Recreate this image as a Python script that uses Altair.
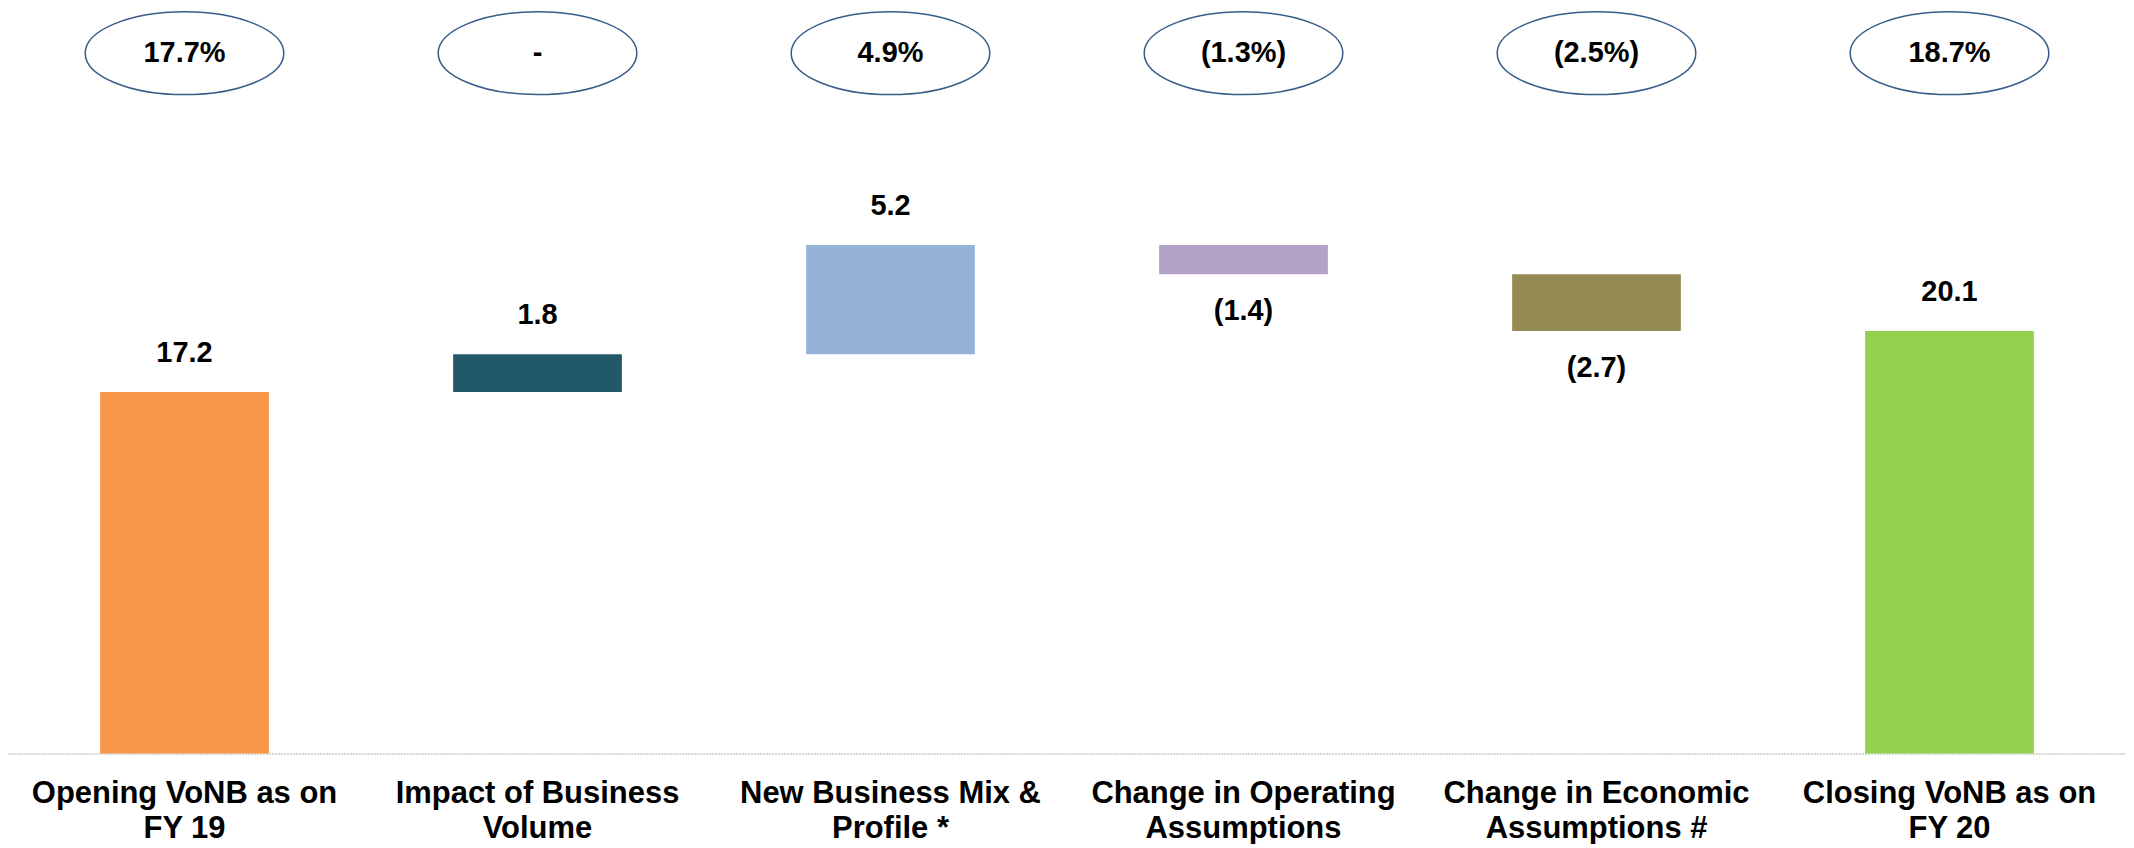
import altair as alt
import pandas as pd

# ---- data ----
categories = [
    "Opening VoNB as on|FY 19",
    "Impact of Business|Volume",
    "New Business Mix &|Profile *",
    "Change in Operating|Assumptions",
    "Change in Economic|Assumptions #",
    "Closing VoNB as on|FY 20",
]
values = [17.2, 1.8, 5.2, -1.4, -2.7, 20.1]
kinds = ["total", "delta", "delta", "delta", "delta", "total"]
margins = ["17.7%", "-", "4.9%", "(1.3%)", "(2.5%)", "18.7%"]
colors = ["#F79646", "#215968", "#95B3D7", "#B3A2C7", "#948A54", "#92D050"]

rows = []
running = 0.0
for c, v, k, m, col in zip(categories, values, kinds, margins, colors):
    if k == "total":
        start, end = 0.0, v
        running = v
    else:
        start, end = running, running + v
        running = end
    label = f"{v:.1f}" if v >= 0 else f"({abs(v):.1f})"
    rows.append(dict(cat=c, start=start, end=end, top=max(start, end),
                     bottom=min(start, end), label=label,
                     sign="pos" if v >= 0 else "neg", margin=m, color=col))
df = pd.DataFrame(rows)

FONT = "Liberation Sans"
W = 2122
xscale = alt.Scale(paddingInner=0.522, paddingOuter=0.261)

# ---- top row of ellipses ----
ellipse = ("M-1,0C-1,-0.2303,-0.5523,-0.417,0,-0.417C0.5523,-0.417,1,-0.2303,1,0"
           "C1,0.2303,0.5523,0.417,0,0.417C-0.5523,0.417,-1,0.2303,-1,0Z")
top_base = alt.Chart(df).encode(
    x=alt.X("cat:N", sort=categories, scale=xscale, axis=None)
)
ovals = top_base.mark_point(shape=ellipse, size=199 * 199, filled=False,
                            stroke="#385D8A", strokeWidth=1.5, opacity=1)
oval_text = top_base.mark_text(font=FONT, fontSize=29, fontWeight="bold",
                               color="black", baseline="middle").encode(text="margin:N")
top = alt.layer(ovals, oval_text).properties(width=W, height=85)

# ---- waterfall ----
base = alt.Chart(df).encode(
    x=alt.X("cat:N", sort=categories, scale=xscale, title=None,
            axis=alt.Axis(labelExpr="split(datum.value, '|')", labelAngle=0,
                          labelFontSize=31, labelFont=FONT, labelFontWeight="bold",
                          labelColor="black", labelLineHeight=35, labelPadding=25,
                          labelBaseline="top", labelLimit=400, ticks=False,
                          domainColor="#C8C8C8", domainDash=[2, 1], domainWidth=1.5))
)
yscale = alt.Scale(domain=[0, 31.21], nice=False, zero=True)
bars = base.mark_bar().encode(
    y=alt.Y("start:Q", scale=yscale, axis=None),
    y2="end:Q",
    color=alt.Color("color:N", scale=None),
)
pos_text = base.transform_filter("datum.sign == 'pos'").mark_text(
    font=FONT, fontSize=29, fontWeight="bold", color="black", baseline="middle", dy=-39
).encode(y=alt.Y("top:Q", scale=yscale, axis=None), text="label:N")
neg_text = base.transform_filter("datum.sign == 'neg'").mark_text(
    font=FONT, fontSize=29, fontWeight="bold", color="black", baseline="middle", dy=37
).encode(y=alt.Y("bottom:Q", scale=yscale, axis=None), text="label:N")
bottom = alt.layer(bars, pos_text, neg_text).properties(width=W, height=657)

chart = alt.vconcat(top, bottom, spacing=0).properties(padding=0).configure_view(stroke=None)

chart.save("out.html", embed_options={"renderer": "svg", "actions": False})
